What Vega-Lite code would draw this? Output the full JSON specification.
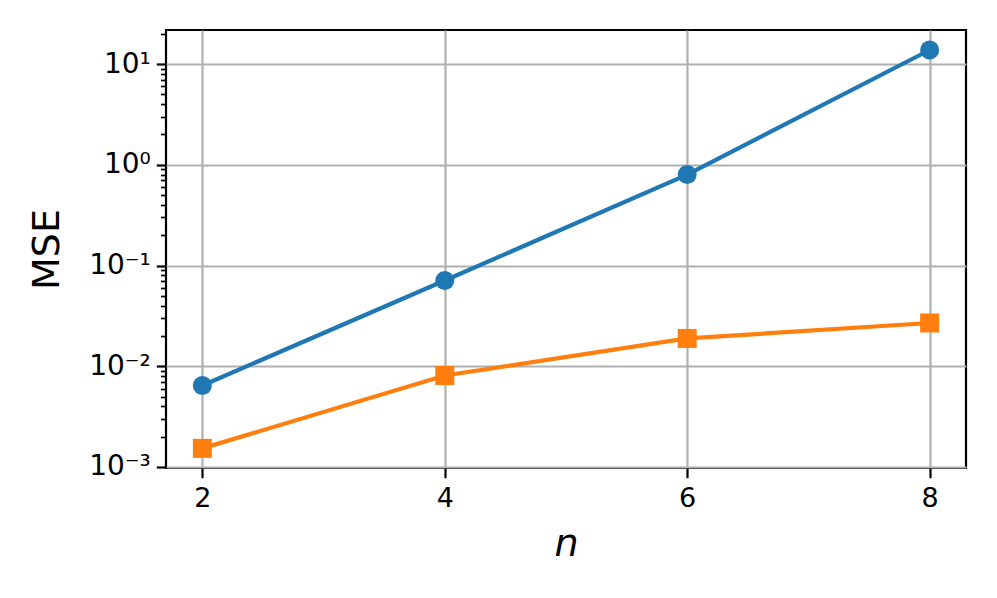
{
  "$schema": "https://vega.github.io/schema/vega-lite/v6.json",
  "width": 800,
  "height": 438,
  "autosize": "none",
  "padding": {"left": 166, "top": 30, "right": 31, "bottom": 130},
  "background": "white",
  "config": {
    "view": {"stroke": "black", "strokeWidth": 2.2},
    "font": "DejaVu Sans",
    "axis": {
      "labelFont": "DejaVu Sans",
      "titleFont": "DejaVu Sans",
      "labelColor": "black",
      "titleColor": "black",
      "titleFontWeight": "normal",
      "domain": false,
      "tickColor": "black",
      "tickWidth": 2.2,
      "tickSize": 9.7,
      "gridColor": "#b0b0b0",
      "gridWidth": 2.2,
      "gridOpacity": 1
    }
  },
  "data": {
    "values": [
      {"n": 2, "mse": 0.00644, "series": "A"},
      {"n": 4, "mse": 0.071, "series": "A"},
      {"n": 6, "mse": 0.80, "series": "A"},
      {"n": 8, "mse": 13.8, "series": "A"},
      {"n": 2, "mse": 0.00153, "series": "B"},
      {"n": 4, "mse": 0.0081, "series": "B"},
      {"n": 6, "mse": 0.0189, "series": "B"},
      {"n": 8, "mse": 0.0269, "series": "B"}
    ]
  },
  "encoding": {
    "x": {
      "field": "n",
      "type": "quantitative",
      "scale": {"domain": [1.7, 8.3], "nice": false, "zero": false},
      "axis": {
        "values": [2, 4, 6, 8],
        "title": "n",
        "titleFontStyle": "italic",
        "titleFontSize": 38,
        "titlePadding": 14,
        "labelFontSize": 27,
        "labelPadding": 8,
        "grid": true
      }
    },
    "y": {
      "field": "mse",
      "type": "quantitative",
      "scale": {"type": "log", "domain": [0.000977, 21.8], "nice": false}
    }
  },
  "layer": [
    {
      "transform": [{"filter": "datum.series === 'A'"}],
      "mark": {"type": "line", "color": "#1f77b4", "strokeWidth": 4.2,
        "point": {"filled": true, "shape": "circle", "size": 361, "color": "#1f77b4", "opacity": 1}},
      "encoding": {
        "y": {
          "field": "mse",
          "type": "quantitative",
          "axis": {
            "orient": "left",
            "values": [0.001, 0.01, 0.1, 1, 10],
            "labelExpr": "datum.value >= 10 ? '10¹' : datum.value >= 1 ? '10⁰' : datum.value >= 0.1 ? '10⁻¹' : datum.value >= 0.01 ? '10⁻²' : '10⁻³'",
            "labelFontSize": 28,
            "labelPadding": 6,
            "title": "MSE",
            "titleFontSize": 38,
            "titlePadding": 22,
            "grid": true
          }
        }
      }
    },
    {
      "transform": [{"filter": "datum.series === 'B'"}],
      "mark": {"type": "line", "color": "#ff7f0e", "strokeWidth": 4.2,
        "point": {"filled": true, "shape": "square", "size": 361, "color": "#ff7f0e", "opacity": 1}},
      "encoding": {
        "y": {
          "field": "mse",
          "type": "quantitative",
          "axis": {
            "orient": "left",
            "values": [0.002, 0.003, 0.004, 0.005, 0.006, 0.007, 0.008, 0.009, 0.02, 0.03, 0.04, 0.05, 0.06, 0.07, 0.08, 0.09, 0.2, 0.3, 0.4, 0.5, 0.6, 0.7, 0.8, 0.9, 2, 3, 4, 5, 6, 7, 8, 9, 20],
            "labels": false,
            "grid": false,
            "title": null,
            "tickSize": 5.5,
            "tickWidth": 1.7
          }
        }
      }
    }
  ],
  "resolve": {"scale": {"y": "shared"}, "axis": {"y": "independent"}}
}
